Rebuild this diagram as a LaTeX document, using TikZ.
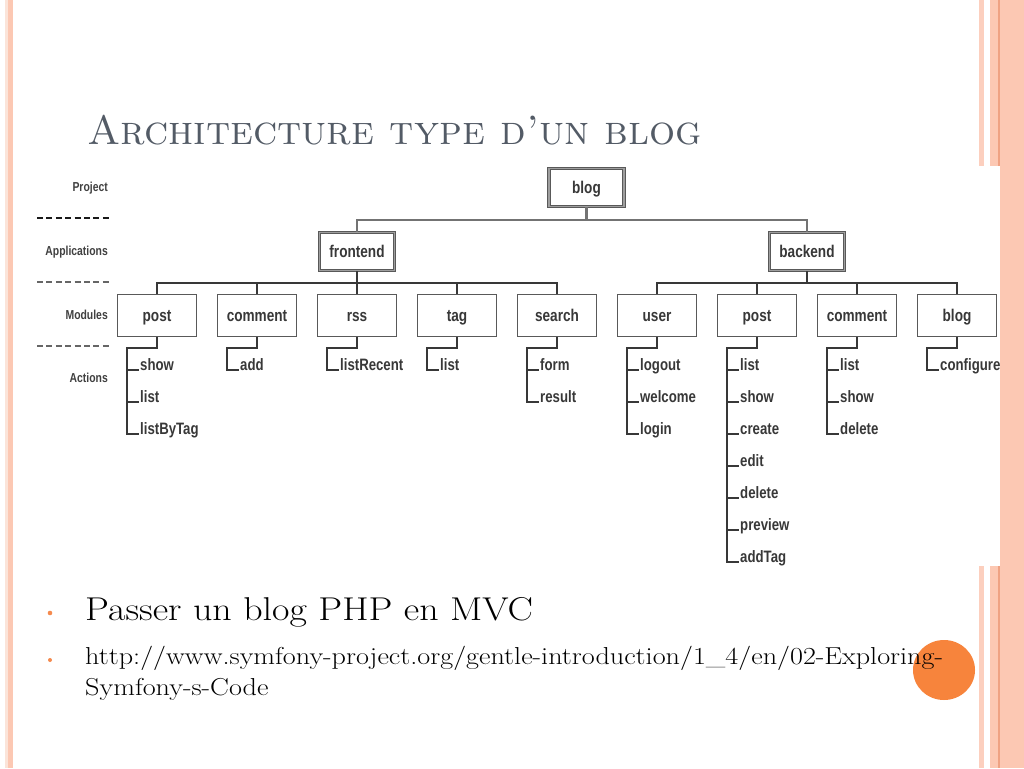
\documentclass[tikz,border=0pt]{standalone}
\usepackage{fontspec}
\newfontfamily\dfont[FakeStretch=0.8]{Liberation Sans}
\newfontfamily\wideserif[FakeStretch=1.15, Ligatures=TeX]{Latin Modern Roman}
\definecolor{peachA}{HTML}{FCC8B3}
\definecolor{peachB}{HTML}{FCCFBE}
\definecolor{peachL}{HTML}{FBE4D9}
\definecolor{peachD}{HTML}{EFA283}
\definecolor{titlec}{HTML}{535B66}
\definecolor{orangeb}{HTML}{F58A4E}
\definecolor{orangec}{HTML}{F7843C}
\tikzset{
  mod/.style={draw=black!65, line width=1.3pt, fill=white, minimum width=79pt, minimum height=42pt,
    inner sep=0pt, text height=13pt, text depth=1pt,
    font=\dfont\bfseries\fontsize{17}{17}\selectfont, text=black!78},
  app/.style={draw=black!65, double=black!38, double distance=1.8pt, line width=0.9pt, fill=white,
    minimum width=75pt, minimum height=38pt, inner sep=0pt, text height=13pt, text depth=1pt,
    font=\dfont\bfseries\fontsize{17}{17}\selectfont, text=black!78},
  act/.style={anchor=base west, inner sep=1.5pt, font=\dfont\bfseries\fontsize{16.5}{16.5}\selectfont, text=black!78},
  lvl/.style={anchor=east, inner sep=0pt, font=\dfont\bfseries\fontsize{13}{13}\selectfont, text=black!75},
  conn/.style={line width=1.5pt, draw=black!78},
  topconn/.style={line width=2.2pt, draw=black!55},
  sep/.style={line width=1.3pt, dash pattern=on 6pt off 3.4pt},
}
\newcommand\acttree[3]{%
  \coordinate (#1-t) at ([shift={(-30,11)}]#1.south);
  \foreach \t [count=\i] in {#3} {%
    \node[act] (#1-\i) at (#2, 338+32*\i) {\t};
    \draw[conn] (#1-t |- #1-\i.base west) -- (#1-\i.base west);
    \xdef\lastact{\i}%
  }
  \draw[conn] (#1.south) |- (#1-t) |- (#1-\lastact.base west);
}
\begin{document}
\begin{tikzpicture}[x=1pt,y=-1pt]
\useasboundingbox (0,0) rectangle (1024,768);
\fill[white] (0,0) rectangle (1024,768);
% left stripes
\fill[peachL] (5,0) rectangle (7.5,768);
\fill[peachA] (7.5,0) rectangle (12.5,768);
% right stripes
\fill[peachB] (979,0) rectangle (983.5,768);
\fill[peachA] (990,0) rectangle (999,768);
\draw[peachD, line width=1.2pt] (999,0) -- (999,768);
% title
\node[anchor=base west, inner sep=0pt, text=titlec, font=\fontsize{41}{41}\selectfont] (title) at (87,144)
  {\textsc{Architecture type d’un blog}};
% diagram image area
\fill[white] (30,166) rectangle (1000,566);
% level labels
\node[lvl] (lp) at (108,188) {Project};
\node[lvl] (la) at (108,252) {Applications};
\node[lvl] (lm) at (108,315) {Modules};
\node[lvl] (lc) at (108,378) {Actions};
\draw[sep, draw=black!90] (37,218) -- (110,218);
\draw[sep, draw=black!60] (37,282) -- (110,282);
\draw[sep, draw=black!60] (37,346) -- (110,346);
% project & apps
\node[app] (blog) at (586.5,187.5) {blog};
\node[app] (frontend) at (357,251.5) {frontend};
\node[app] (backend) at (807,251.5) {backend};
\coordinate (bj) at (586.5,220);
\draw[topconn] (blog.south) -- (bj);
\draw[topconn] (frontend.north) |- (bj) -| (backend.north);
% modules
\node[mod] (fpost) at (157,315.5) {post};
\node[mod] (fcomment) at (257,315.5) {comment};
\node[mod] (frss) at (357,315.5) {rss};
\node[mod] (ftag) at (457,315.5) {tag};
\node[mod] (fsearch) at (557,315.5) {search};
\node[mod] (buser) at (657,315.5) {user};
\node[mod] (bpost) at (757,315.5) {post};
\node[mod] (bcomment) at (857,315.5) {comment};
\node[mod] (bblog) at (957,315.5) {blog};
\coordinate (fj) at (357,283);
\coordinate (bk) at (807,283);
\draw[conn] (frontend.south) -- (fj);
\draw[conn] (fpost.north) |- (fj) -| (fsearch.north);
\draw[conn] (fcomment.north) -- (fcomment.north |- fj);
\draw[conn] (frss.north) -- (fj);
\draw[conn] (ftag.north) -- (ftag.north |- fj);
\draw[conn] (backend.south) -- (bk);
\draw[conn] (buser.north) |- (bk) -| (bblog.north);
\draw[conn] (bpost.north) -- (bpost.north |- bk);
\draw[conn] (bcomment.north) -- (bcomment.north |- bk);
% actions
\acttree{fpost}{138.5}{show,list,listByTag}
\acttree{fcomment}{238.5}{add}
\acttree{frss}{338.5}{listRecent}
\acttree{ftag}{438.5}{list}
\acttree{fsearch}{538.5}{form,result}
\acttree{buser}{638.5}{logout,welcome,login}
\acttree{bpost}{738.5}{list,show,create,edit,delete,preview,addTag}
\acttree{bcomment}{838.5}{list,show,delete}
\acttree{bblog}{938.5}{configure}
% right solid band over the image edge
\fill[peachA] (999.6,0) rectangle (1024,768);
% orange circle (under the text)
\fill[orangec] (944,670) ellipse (31 and 30);
% bullets
\fill[orangeb] (50,613) circle (2.3);
\fill[orangeb] (50,660) circle (2);
\node[anchor=base west, inner sep=0pt, font=\wideserif\fontsize{33}{33}\selectfont] (b1) at (85,620) {Passer un blog PHP en MVC};
\node[anchor=base west, inner sep=0pt, font=\wideserif\fontsize{24.5}{31}\selectfont] (b2) at (85,664)
  {http://www.symfony-project.org/gentle-introduction/1\_4/en/02-Exploring-};
\node[anchor=base west, inner sep=0pt, font=\wideserif\fontsize{24.5}{31}\selectfont] (b3) at (85,695) {Symfony-s-Code};
\end{tikzpicture}
\end{document}
